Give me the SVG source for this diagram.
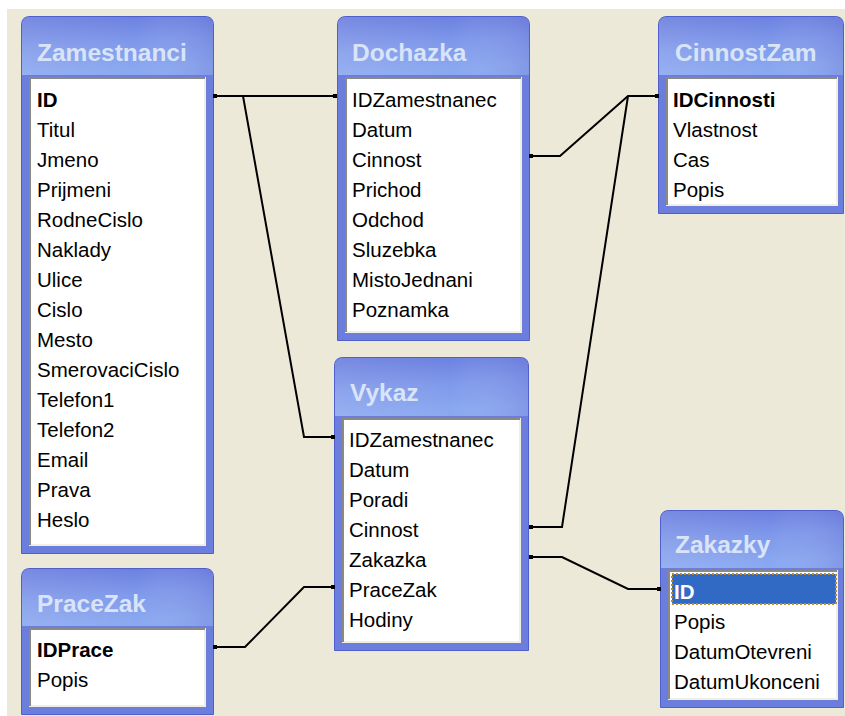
<svg xmlns="http://www.w3.org/2000/svg" width="845" height="716" viewBox="0 0 845 716">
<defs>
<linearGradient id="tg" x1="0" y1="0" x2="0.25" y2="1">
<stop offset="0" stop-color="#6679DD"/>
<stop offset="0.55" stop-color="#7F99EA"/>
<stop offset="1" stop-color="#8AA8F0"/>
</linearGradient>
<linearGradient id="th" x1="0" y1="0" x2="1" y2="0">
<stop offset="0" stop-color="#FFFFFF" stop-opacity="0.12"/>
<stop offset="0.6" stop-color="#FFFFFF" stop-opacity="0"/>
<stop offset="1" stop-color="#5040B0" stop-opacity="0.15"/>
</linearGradient>
<marker id="dot" viewBox="0 0 4 4" refX="2" refY="2" markerWidth="4" markerHeight="4" markerUnits="userSpaceOnUse">
<rect width="4" height="4" fill="#000"/>
</marker>
<style>
.frame{fill:#6B7EDD;stroke:#4F5FCC;stroke-width:1}
.tbar{fill:url(#tg)}
.thl{fill:url(#th)}
.title{font-family:"Liberation Sans",Arial,sans-serif;font-weight:bold;font-size:24.5px;fill:#D9E4F8}
.list{fill:#FFFFFF;stroke:#F1EFE2;stroke-width:2}
.bev{fill:none;stroke:#8C897E;stroke-width:2}
.row{font-family:"Liberation Sans",Arial,sans-serif;font-size:20.5px;fill:#000}
.key{font-weight:bold}
.sel{fill:#316AC5;stroke:#C08A2A;stroke-width:2;stroke-dasharray:2 2}
.conn{fill:none;stroke:#000;stroke-width:2}
</style>
</defs>
<rect x="0" y="0" width="845" height="716" fill="#FFFFFF"/>
<rect x="7" y="9" width="838" height="707" fill="#ECE9D8"/>

<g id="Zamestnanci">
<path class="frame" d="M21.5,553.5 V25 Q21.5,16.5 30,16.5 H205 Q213.5,16.5 213.5,25 V553.5 Z"/>
<path class="tbar" d="M22,75 V25 Q22,17 30,17 H205 Q213,17 213,25 V75 Z"/>
<path class="thl" d="M22,75 V25 Q22,17 30,17 H205 Q213,17 213,25 V75 Z"/>
<text class="title" x="37" y="61">Zamestnanci</text>
<rect class="list" x="30" y="78" width="175" height="467"/>
<polyline class="bev" points="30,545 30,78 205,78"/>
<text class="row key" x="37" y="107">ID</text>
<text class="row" x="37" y="137">Titul</text>
<text class="row" x="37" y="167">Jmeno</text>
<text class="row" x="37" y="197">Prijmeni</text>
<text class="row" x="37" y="227">RodneCislo</text>
<text class="row" x="37" y="257">Naklady</text>
<text class="row" x="37" y="287">Ulice</text>
<text class="row" x="37" y="317">Cislo</text>
<text class="row" x="37" y="347">Mesto</text>
<text class="row" x="37" y="377">SmerovaciCislo</text>
<text class="row" x="37" y="407">Telefon1</text>
<text class="row" x="37" y="437">Telefon2</text>
<text class="row" x="37" y="467">Email</text>
<text class="row" x="37" y="497">Prava</text>
<text class="row" x="37" y="527">Heslo</text>
</g>

<g id="Dochazka">
<path class="frame" d="M337.5,340.5 V25 Q337.5,16.5 346,16.5 H521 Q529.5,16.5 529.5,25 V340.5 Z"/>
<path class="tbar" d="M338,75 V25 Q338,17 346,17 H521 Q529,17 529,25 V75 Z"/>
<path class="thl" d="M338,75 V25 Q338,17 346,17 H521 Q529,17 529,25 V75 Z"/>
<text class="title" x="352" y="61">Dochazka</text>
<rect class="list" x="346" y="78" width="175" height="254"/>
<polyline class="bev" points="346,332 346,78 521,78"/>
<text class="row" x="352" y="107">IDZamestnanec</text>
<text class="row" x="352" y="137">Datum</text>
<text class="row" x="352" y="167">Cinnost</text>
<text class="row" x="352" y="197">Prichod</text>
<text class="row" x="352" y="227">Odchod</text>
<text class="row" x="352" y="257">Sluzebka</text>
<text class="row" x="352" y="287">MistoJednani</text>
<text class="row" x="352" y="317">Poznamka</text>
</g>

<g id="CinnostZam">
<path class="frame" d="M658.5,213.5 V25 Q658.5,16.5 667,16.5 H835 Q843.5,16.5 843.5,25 V213.5 Z"/>
<path class="tbar" d="M659,75 V25 Q659,17 667,17 H835 Q843,17 843,25 V75 Z"/>
<path class="thl" d="M659,75 V25 Q659,17 667,17 H835 Q843,17 843,25 V75 Z"/>
<text class="title" x="675" y="61">CinnostZam</text>
<rect class="list" x="667" y="78" width="170" height="127"/>
<polyline class="bev" points="667,205 667,78 837,78"/>
<text class="row key" x="673" y="107">IDCinnosti</text>
<text class="row" x="673" y="137">Vlastnost</text>
<text class="row" x="673" y="167">Cas</text>
<text class="row" x="673" y="197">Popis</text>
</g>

<g id="Vykaz">
<path class="frame" d="M334.5,650.5 V366 Q334.5,357.5 343,357.5 H520 Q528.5,357.5 528.5,366 V650.5 Z"/>
<path class="tbar" d="M335,416 V366 Q335,358 343,358 H520 Q528,358 528,366 V416 Z"/>
<path class="thl" d="M335,416 V366 Q335,358 343,358 H520 Q528,358 528,366 V416 Z"/>
<text class="title" x="350" y="401">Vykaz</text>
<rect class="list" x="343" y="419" width="177" height="223"/>
<polyline class="bev" points="343,642 343,419 520,419"/>
<text class="row" x="349" y="447">IDZamestnanec</text>
<text class="row" x="349" y="477">Datum</text>
<text class="row" x="349" y="507">Poradi</text>
<text class="row" x="349" y="537">Cinnost</text>
<text class="row" x="349" y="567">Zakazka</text>
<text class="row" x="349" y="597">PraceZak</text>
<text class="row" x="349" y="627">Hodiny</text>
</g>

<g id="Zakazky">
<path class="frame" d="M660.5,707.5 V519 Q660.5,510.5 669,510.5 H835 Q843.5,510.5 843.5,519 V707.5 Z"/>
<path class="tbar" d="M661,568 V519 Q661,511 669,511 H835 Q843,511 843,519 V568 Z"/>
<path class="thl" d="M661,568 V519 Q661,511 669,511 H835 Q843,511 843,519 V568 Z"/>
<text class="title" x="675" y="553">Zakazky</text>
<rect class="list" x="669" y="571" width="168" height="128"/>
<polyline class="bev" points="669,699 669,571 837,571"/>
<rect class="sel" x="672" y="574" width="164" height="30"/>
<text class="row key" x="674" y="599" fill="#FFFFFF" style="fill:#FFFFFF">ID</text>
<text class="row" x="674" y="629">Popis</text>
<text class="row" x="674" y="659">DatumOtevreni</text>
<text class="row" x="674" y="689">DatumUkonceni</text>
</g>

<g id="PraceZak">
<path class="frame" d="M21.5,714.5 V577 Q21.5,568.5 30,568.5 H205 Q213.5,568.5 213.5,577 V714.5 Z"/>
<path class="tbar" d="M22,626 V577 Q22,569 30,569 H205 Q213,569 213,577 V626 Z"/>
<path class="thl" d="M22,626 V577 Q22,569 30,569 H205 Q213,569 213,577 V626 Z"/>
<text class="title" x="37" y="612">PraceZak</text>
<rect class="list" x="30" y="629" width="175" height="77"/>
<polyline class="bev" points="30,706 30,629 205,629"/>
<text class="row key" x="37" y="657">IDPrace</text>
<text class="row" x="37" y="687">Popis</text>
</g>

<g id="connectors">
<path class="conn" d="M215,96 H335" marker-start="url(#dot)" marker-end="url(#dot)"/>
<path class="conn" d="M243,96 L304,437 H333" marker-end="url(#dot)"/>
<path class="conn" d="M531,156 H560 L628,96 H657" marker-start="url(#dot)" marker-end="url(#dot)"/>
<path class="conn" d="M628,96 L562,527 H531" marker-end="url(#dot)"/>
<path class="conn" d="M531,557 H562 L628,589 H659" marker-start="url(#dot)" marker-end="url(#dot)"/>
<path class="conn" d="M215,647 H245 L304,587 H333" marker-start="url(#dot)" marker-end="url(#dot)"/>
</g>
</svg>
